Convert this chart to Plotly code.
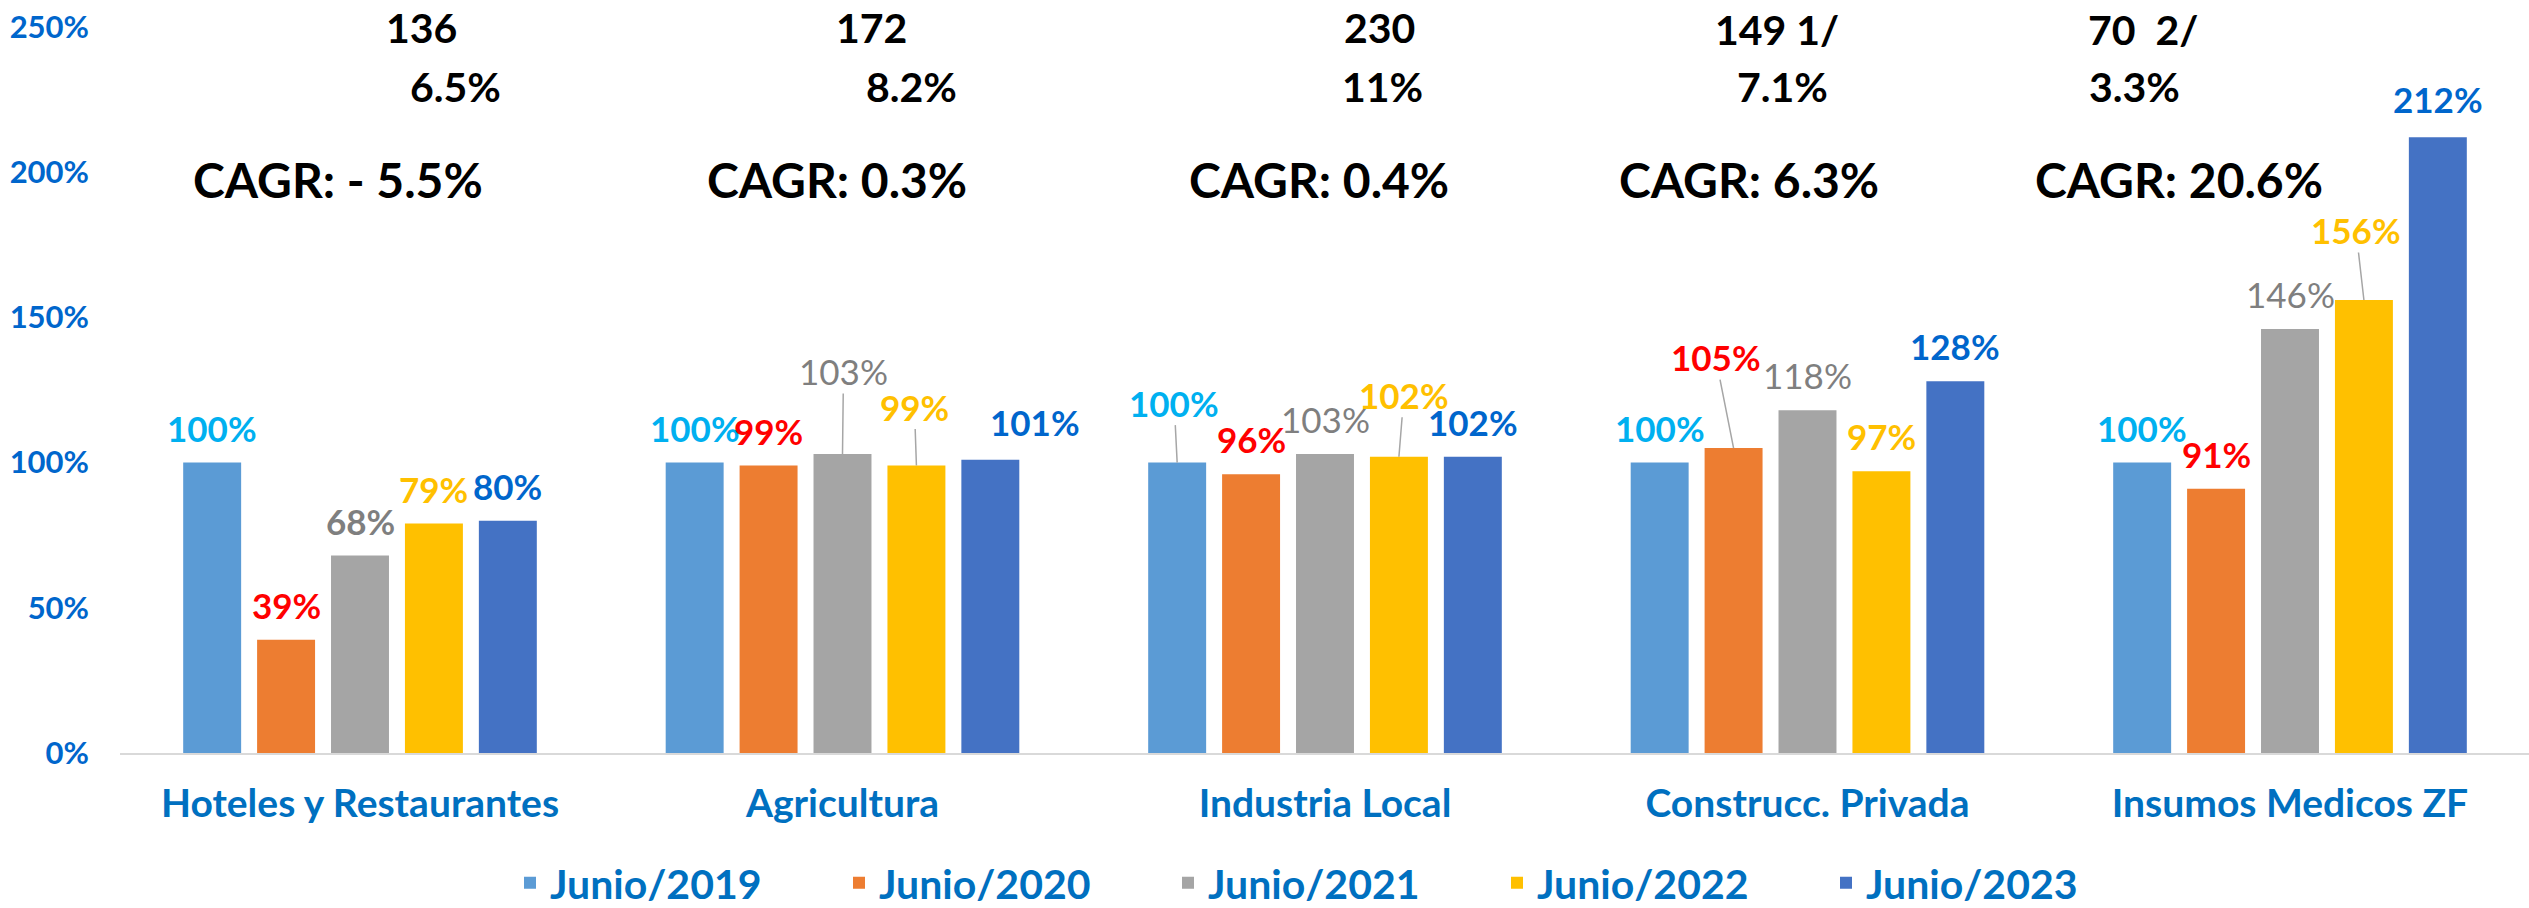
import plotly.graph_objects as go

# ---------------- data ----------------
categories = ["Hoteles y Restaurantes", "Agricultura", "Industria Local",
              "Construcc. Privada", "Insumos Medicos ZF"]
series_names = ["Junio/2019", "Junio/2020", "Junio/2021", "Junio/2022", "Junio/2023"]

junio_2019 = [100, 100, 100, 100, 100]
junio_2020 = [39, 99, 96, 105, 91]
junio_2021 = [68, 103, 103, 118, 146]
junio_2022 = [79, 99, 102, 97, 156]
junio_2023 = [80, 101, 102, 128, 212]
series_values = [junio_2019, junio_2020, junio_2021, junio_2022, junio_2023]

top_values = ["136", "172", "230", "149 1/", "70  2/"]
top_shares = ["6.5%", "8.2%", "11%", "7.1%", "3.3%"]
cagr_labels = ["CAGR: - 5.5%", "CAGR: 0.3%", "CAGR: 0.4%", "CAGR: 6.3%", "CAGR: 20.6%"]

y_tick_vals = [0, 50, 100, 150, 200, 250]
y_tick_text = ["0%", "50%", "100%", "150%", "200%", "250%"]

# ---------------- style ----------------
bar_colors = ["#5B9BD5", "#ED7D31", "#A5A5A5", "#FFC000", "#4472C4"]
label_colors = ["#00B0F0", "#FF0000", "#7F7F7F", "#FFC000", "#0066CC"]
label_weights = ["bold", "bold", "normal", "bold", "bold"]
weight_override = {(0, 2): "bold"}
FONT = "Lato"

W, H = 2529, 908
PLOT_L, PLOT_R, PLOT_T, PLOT_B = 120, 2529, 27, 753
ML, MR = PLOT_L, W - PLOT_R
MT, MB = PLOT_T, H - PLOT_B
UNIT = 482.5            # px per category
CAT0 = 360              # px of first category centre
X_RANGE = [(PLOT_L - CAT0) / UNIT, (PLOT_R - CAT0) / UNIT]
BARGAP = 0.234
BARGROUPGAP = 0.216

# label placement (pixel offset of label centre from bar top; leader = draw line)
label_layout = {
    (1, 2): (1, 83, True), (1, 3): (-2, 59, True), (1, 4): (45, 38, False),
    (2, 0): (-3, 60, True), (2, 3): (5, 62, True),
    (3, 1): (-18, 91, True),
    (4, 3): (-8, 70, True), (4, 4): (0, 38, False),
}
DEFAULT_DY = 35

# header text positions (pixel centres)
top_val_px = [(421, 28), (871, 28), (1379, 28), (1777, 30), (2143, 30)]
top_share_px = [(455, 86), (911, 86), (1382, 86), (1783, 86), (2134, 86)]
cagr_px = [(338, 180), (837, 180), (1319, 180), (1749, 180), (2179, 180)]

plot_w = PLOT_R - PLOT_L
plot_h = PLOT_B - PLOT_T


def px_to_paper(px, py):
    return (px - PLOT_L) / plot_w, (PLOT_B - py) / plot_h


fig = go.Figure()
for name, vals, col in zip(series_names, series_values, bar_colors):
    fig.add_trace(go.Bar(
        name=name, x=categories, y=vals,
        marker=dict(color=col, line=dict(width=0)),
        hoverinfo="x+y",
    ))

annotations = []
slot = (1 - BARGAP) / len(series_names)
for si, vals in enumerate(series_values):
    for ci, v in enumerate(vals):
        xpos = ci + (si - (len(series_names) - 1) / 2) * slot
        dx, dy, leader = label_layout.get((ci, si), (0, DEFAULT_DY, False))
        weight = weight_override.get((ci, si), label_weights[si])
        font = dict(family=FONT, size=35, color=label_colors[si], weight=weight)
        if leader:
            annotations.append(dict(
                x=xpos, y=v, xref="x", yref="y", text=f"{v}%", font=font,
                showarrow=True, ax=dx, ay=-dy, arrowhead=0, arrowwidth=1.5,
                arrowcolor="#A6A6A6", standoff=0, startstandoff=0,
            ))
        else:
            annotations.append(dict(
                x=xpos, y=v, xref="x", yref="y", text=f"{v}%", font=font,
                showarrow=False, xshift=dx, yshift=dy, yanchor="middle",
                xanchor="center",
            ))

for texts, pos, size in ((top_values, top_val_px, 41), (top_shares, top_share_px, 41),
                         (cagr_labels, cagr_px, 48)):
    for t, (px, py) in zip(texts, pos):
        xp, yp = px_to_paper(px, py)
        annotations.append(dict(
            x=xp, y=yp, xref="paper", yref="paper", text=t, showarrow=False,
            xanchor="center", yanchor="middle",
            font=dict(family=FONT, size=size, color="#000000", weight="bold"),
        ))

fig.update_layout(
    width=W, height=H,
    margin=dict(l=ML, r=MR, t=MT, b=MB, pad=0, autoexpand=False),
    paper_bgcolor="white", plot_bgcolor="white",
    barmode="group", bargap=BARGAP, bargroupgap=BARGROUPGAP,
    showlegend=True,
    legend=dict(
        orientation="h", x=(510 - PLOT_L) / plot_w, xanchor="left",
        y=(PLOT_B - 883) / plot_h, yanchor="middle",
        font=dict(family=FONT, size=41, color="#0070C0", weight="bold"),
        entrywidth=284, entrywidthmode="pixels",
        bgcolor="rgba(0,0,0,0)",
    ),
    xaxis=dict(
        showgrid=False, showline=True, linecolor="#D9D9D9", linewidth=2,
        ticks="", tickfont=dict(family=FONT, size=39, color="#0070C0", weight="bold"),
        ticklabelstandoff=15, range=X_RANGE, zeroline=False,
    ),
    yaxis=dict(
        range=[0, 250], tickvals=y_tick_vals, ticktext=y_tick_text,
        showgrid=False, showline=False, zeroline=False, ticks="",
        tickfont=dict(family=FONT, size=31, color="#0066CC", weight="bold"),
        ticklabelstandoff=30, ticklabeloverflow="allow",
    ),
    annotations=annotations,
)

fig.write_html("out.html", config={"displayModeBar": False},
               post_script="document.body.style.margin='0';")
